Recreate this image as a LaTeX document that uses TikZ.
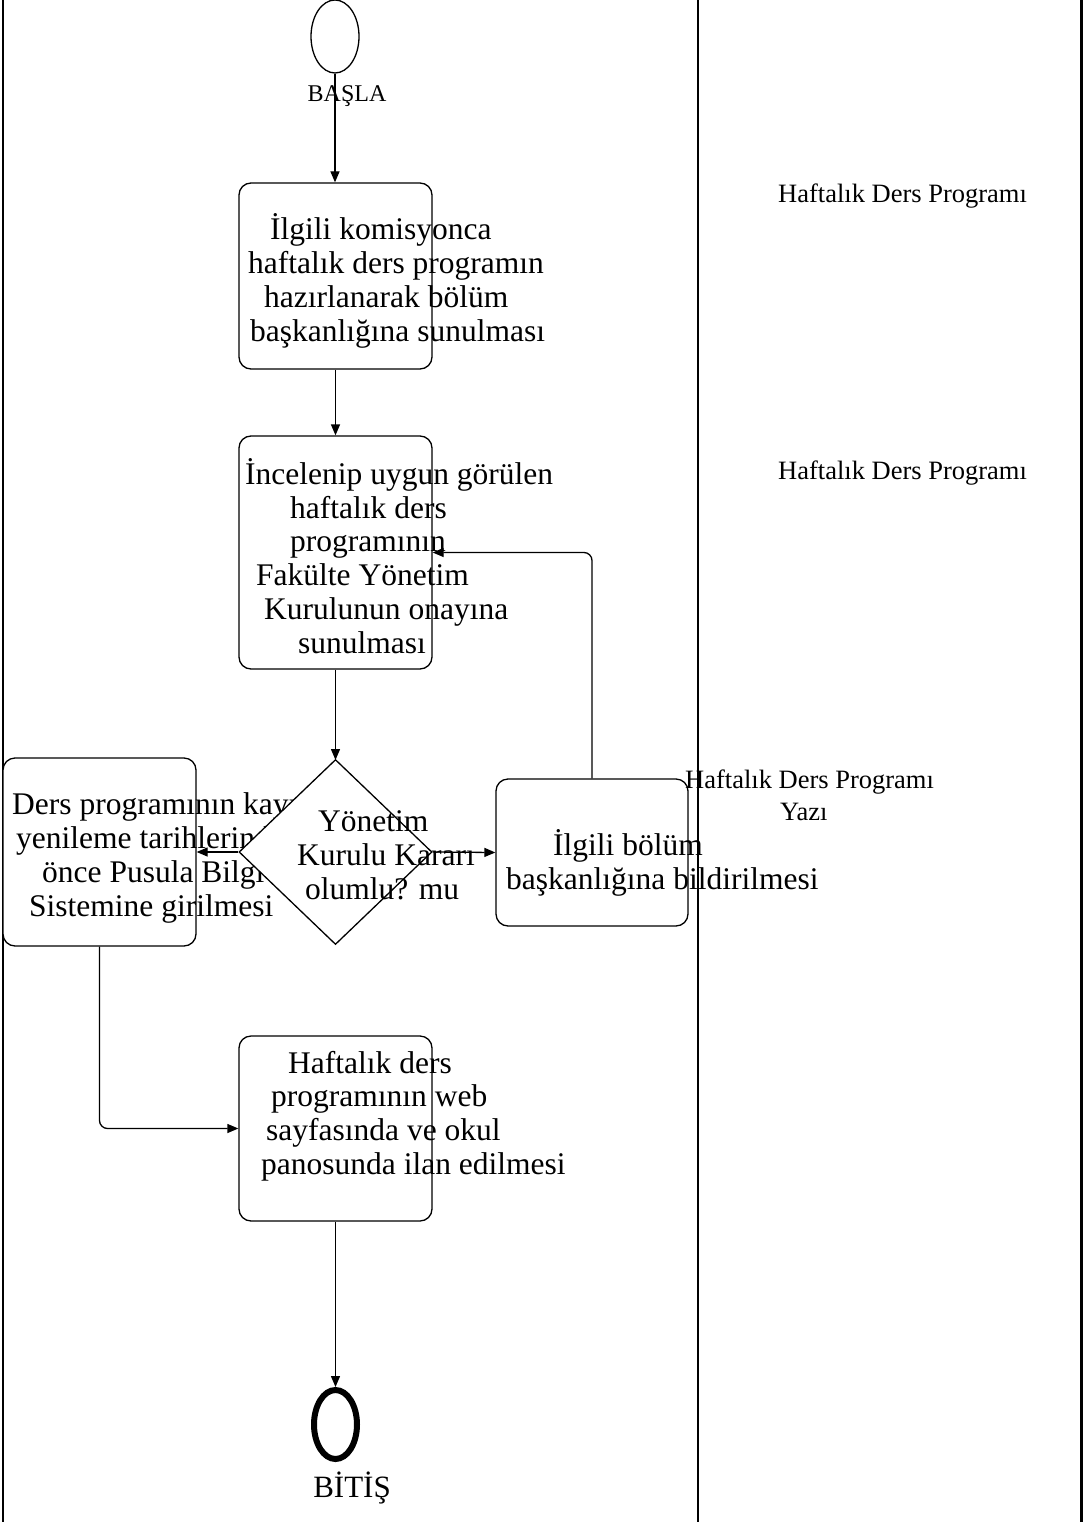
\documentclass[tikz,border=0pt]{standalone}
\usepackage{fontspec}
\setmainfont{Liberation Serif}
\usetikzlibrary{shapes.geometric,arrows.meta}

\begin{document}
\begin{tikzpicture}[x=1pt,y=-1pt,
  lane/.style={line width=2.6pt},
  act/.style={draw,rounded corners=12pt,line width=1.3pt,fill=white,inner sep=0pt},
  txt/.style={font=\fontsize{31.5}{33.8}\selectfont,align=left,anchor=west,inner sep=0pt},
  note/.style={font=\fontsize{26.5}{32}\selectfont,align=left,anchor=west,inner sep=0pt},
  flow/.style={line width=1.3pt,-{Triangle[length=11pt,width=9pt]}},
]
\useasboundingbox (0,0) rectangle (1091,1522);

% swimlane borders
\draw[lane] (3,0) -- (3,1522);
\draw[line width=2pt] (697.5,0) -- (697.5,1522);
\draw[lane] (1081.5,0) -- (1081.5,1522);

% start and end states
\node[draw,ellipse,line width=1.3pt,minimum width=48pt,minimum height=73pt,inner sep=0pt] (start) at (335,36.5) {};
\node[draw,ellipse,line width=6pt,minimum width=43pt,minimum height=69pt,inner sep=0pt] (stop) at (335.5,1424.5) {};

% activity boxes
\node[act,minimum width=193pt,minimum height=186pt] (b1) at (335.5,276) {};
\node[act,minimum width=193pt,minimum height=233pt] (b2) at (335.5,552.5) {};
\node[act,minimum width=193pt,minimum height=188pt] (b5) at (99.5,852) {};
\node[act,minimum width=192pt,minimum height=147pt] (b3) at (592,852.5) {};
\node[act,minimum width=193pt,minimum height=185pt] (b4) at (335.5,1128.5) {};

% connectors
\draw[flow] (start.south) -- (start.south |- b1.north);
\draw[flow] (b1) -- (b2);
\draw[flow] (b2) -- (b2.south |- 0,760);
\draw[flow,rounded corners=8pt] (b3.north) |- (b2.east);
\draw[flow,rounded corners=8pt] (b5.south) |- (b4.west);
\draw[flow] (b4.south) -- (b4.south |- stop.north);

% left activity text (partly covered by the decision)
\node[txt] (t5) at (12,858) {Ders programının kayıt\\\hspace*{4pt}yenileme tarihlerinden\\\hspace*{30pt}önce Pusula Bilgi\\\hspace*{17pt}Sistemine girilmesi};

% decision
\node[draw,diamond,fill=white,line width=1.3pt,minimum width=193pt,minimum height=185pt,inner sep=0pt] (dec) at (335.5,852) {};
\draw[flow] (dec.west) -- (b5.east);
\draw[flow] (dec.east) -- (b3.west);
\node[txt] (td) at (297,855) {\hspace*{21pt}Yönetim\\Kurulu Kararı\\\hspace*{8pt}olumlu? mu};

% activity texts
\node[txt] (t1) at (248,281) {\hspace*{22pt}İlgili komisyonca\\haftalık ders programın\\\hspace*{16pt}hazırlanarak bölüm\\\hspace*{2pt}başkanlığına sunulması};
\node[txt] (t2) at (245,556) {İncelenip uygun görülen\\\hspace*{45pt}haftalık ders\\\hspace*{45pt}programının\\\hspace*{11pt}Fakülte Yönetim\\\hspace*{19pt}Kurulunun onayına\\\hspace*{53pt}sunulması};
\node[txt] (t3) at (506,863) {\hspace*{47pt}İlgili bölüm\\başkanlığına bildirilmesi};
\node[txt] (t4) at (261,1116) {\hspace*{27pt}Haftalık ders\\\hspace*{10pt}programının web\\\hspace*{5pt}sayfasında ve okul\\panosunda ilan edilmesi};

% state labels
\node[font=\fontsize{24}{28}\selectfont,inner sep=0pt] (lstart) at (347,96) {BAŞLA};
\node[font=\fontsize{31}{36}\selectfont,inner sep=0pt] (lstop) at (352,1488) {BİTİŞ};

% documents column
\node[note] (d1) at (778,196) {Haftalık Ders Programı};
\node[note] (d2) at (778,473) {Haftalık Ders Programı};
\node[note] (d3) at (685,795) {Haftalık Ders Programı\\\hspace*{95pt}Yazı};
\end{tikzpicture}
\end{document}
